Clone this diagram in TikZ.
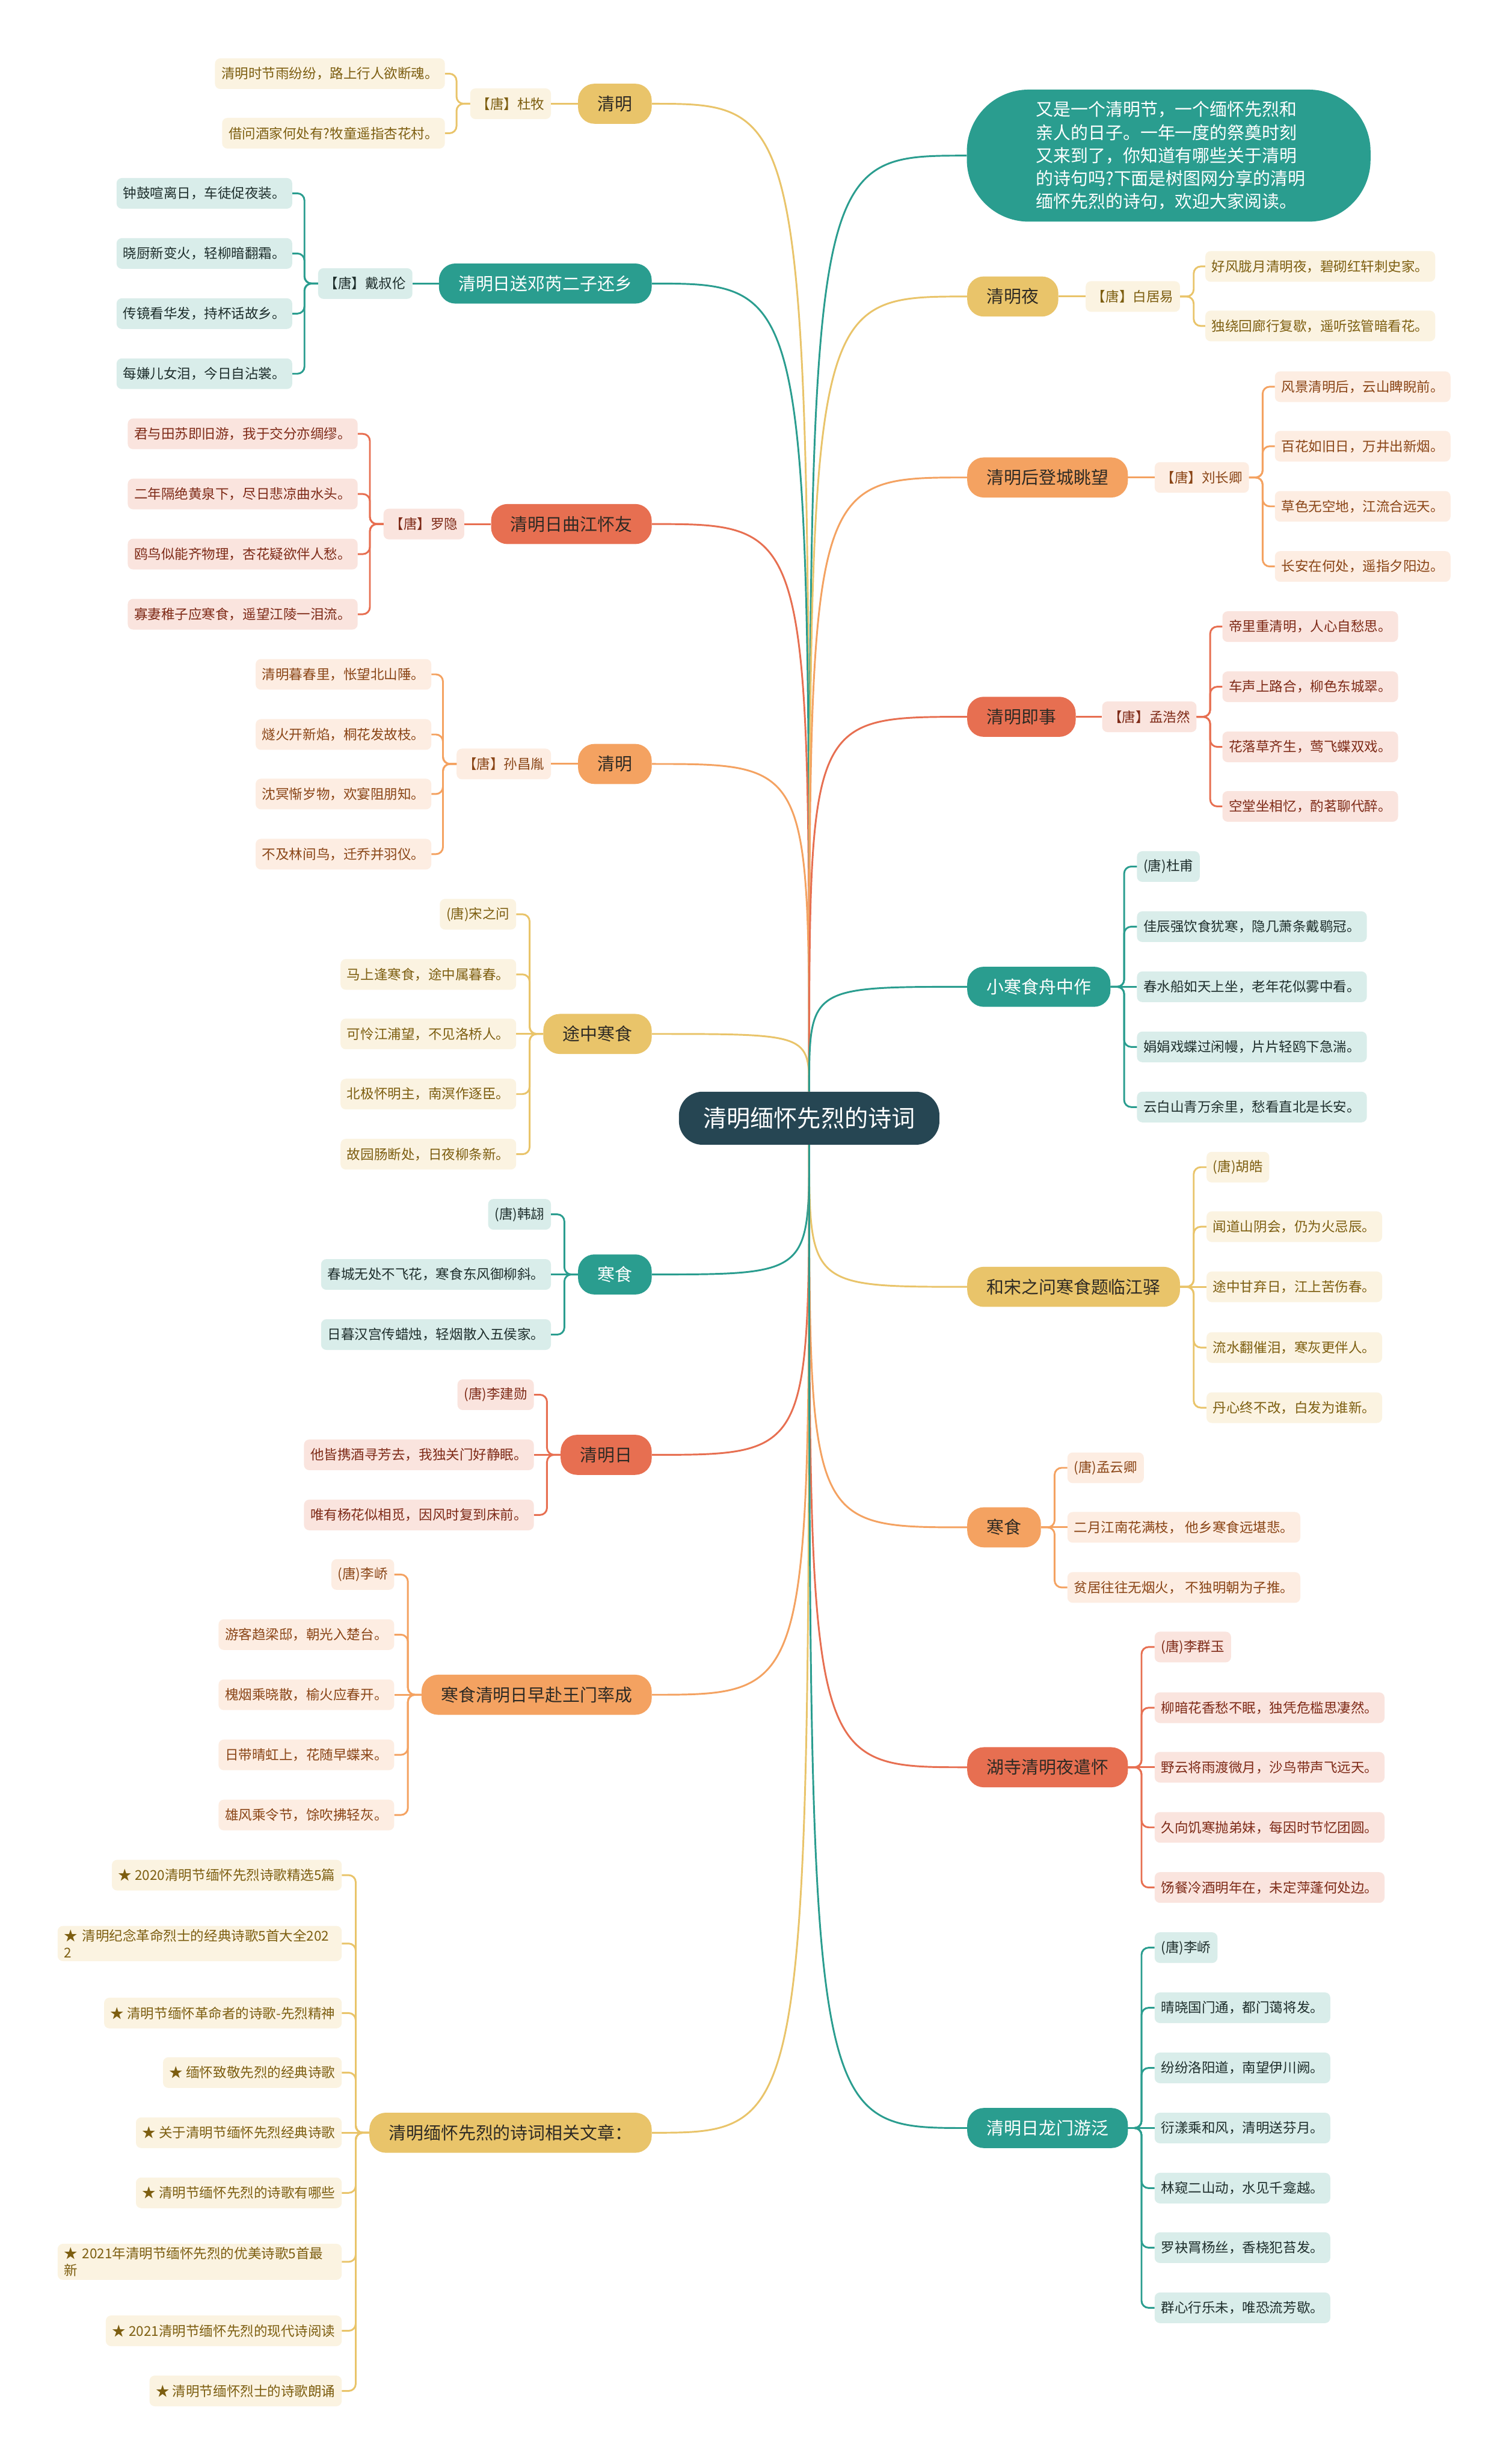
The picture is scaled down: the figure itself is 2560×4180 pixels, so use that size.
\documentclass[tikz,border=0pt]{standalone}
\usepackage{fontspec}
\setmainfont{Noto Sans CJK SC}
\definecolor{rootc}{HTML}{264653}
\definecolor{tealc}{HTML}{2A9D8F}
\definecolor{yelc}{HTML}{E9C46A}
\definecolor{orac}{HTML}{F4A261}
\definecolor{redc}{HTML}{E76F51}
\definecolor{tealf}{HTML}{D9EDEA}
\definecolor{yelf}{HTML}{FBF3E1}
\definecolor{oraf}{HTML}{FDEDE2}
\definecolor{redf}{HTML}{FAE4DE}
\definecolor{yelt}{HTML}{7D5E10}
\definecolor{orat}{HTML}{8A4516}
\definecolor{redt}{HTML}{7E2A17}
\definecolor{tealt}{HTML}{1E2E2C}
\definecolor{darkt}{HTML}{2E2A24}
\begin{document}
\begin{tikzpicture}[x=1pt,y=-1pt,
  rootbox/.style={fill=rootc,text=white,rounded corners=40,minimum height=90,inner xsep=41,font=\fontsize{40}{48}\selectfont},
  mainbox/.style={rounded corners=28,minimum height=68,inner xsep=33,font=\fontsize{29.5}{35}\selectfont},
  ymain/.style={mainbox,fill=yelc,text=darkt},
  omain/.style={mainbox,fill=orac,text=darkt},
  rmain/.style={mainbox,fill=redc,text=darkt},
  tmain/.style={mainbox,fill=tealc,text=white},
  leafbox/.style={rounded corners=9,minimum height=52,inner xsep=11,inner ysep=6,font=\fontsize{23}{28}\selectfont},
  yleaf/.style={leafbox,fill=yelf,text=yelt},
  oleaf/.style={leafbox,fill=oraf,text=orat},
  rleaf/.style={leafbox,fill=redf,text=redt},
  tleaf/.style={leafbox,fill=tealf,text=tealt},
  yline/.style={draw=yelc,line width=3pt,rounded corners=12},
  oline/.style={draw=orac,line width=3pt,rounded corners=12},
  rline/.style={draw=redc,line width=3pt,rounded corners=12},
  tline/.style={draw=tealc,line width=3pt,rounded corners=12}]
\fill[white] (0,0) rectangle (2560,4180);
\useasboundingbox (0,0) rectangle (2560,4180);

\node[rootbox] (root) at (1373,1897) {清明缅怀先烈的诗词};
\node[tmain,minimum width=685,minimum height=224,rounded corners=105,text width=450,align=left,font=\fontsize{29.5}{39}\selectfont] (intro) at (1983,264)
  {又是一个清明节，一个缅怀先烈和\\亲人的日子。一年一度的祭奠时刻\\又来到了，你知道有哪些关于清明\\的诗句吗?下面是树图网分享的清明\\缅怀先烈的诗句，欢迎大家阅读。};

% left half
\begin{scope}[every node/.append style={anchor=east}]
  \node[ymain] (qm1) at (1106,176) {清明}; \node[yleaf] (a1) at (935,176) {【唐】杜牧};
  \node[yleaf] (l1a) at (755,125) {清明时节雨纷纷，路上行人欲断魂。};
  \node[yleaf] (l1b) at (755,226) {借问酒家何处有?牧童遥指杏花村。};

  \node[tmain] (sx) at (1106,481) {清明日送邓芮二子还乡}; \node[tleaf] (a2) at (700,481) {【唐】戴叔伦};
  \node[tleaf] (l2a) at (496,328) {钟鼓喧离日，车徒促夜装。};
  \node[tleaf] (l2b) at (496,430) {晓厨新变火，轻柳暗翻霜。};
  \node[tleaf] (l2c) at (496,532) {传镜看华发，持杯话故乡。};
  \node[tleaf] (l2d) at (496,634) {每嫌儿女泪，今日自沾裳。};

  \node[rmain] (qj) at (1106,889) {清明日曲江怀友}; \node[rleaf] (a3) at (788,889) {【唐】罗隐};
  \node[rleaf] (l3a) at (607,736) {君与田苏即旧游，我于交分亦绸缪。};
  \node[rleaf] (l3b) at (607,838) {二年隔绝黄泉下，尽日悲凉曲水头。};
  \node[rleaf] (l3c) at (607,940) {鸥鸟似能齐物理，杏花疑欲伴人愁。};
  \node[rleaf] (l3d) at (607,1042) {寡妻稚子应寒食，遥望江陵一泪流。};

  \node[omain] (qm2) at (1106,1296) {清明}; \node[oleaf] (a4) at (935,1296) {【唐】孙昌胤};
  \node[oleaf] (l4a) at (732,1144) {清明暮春里，怅望北山陲。};
  \node[oleaf] (l4b) at (732,1246) {燧火开新焰，桐花发故枝。};
  \node[oleaf] (l4c) at (732,1347) {沈冥惭岁物，欢宴阻朋知。};
  \node[oleaf] (l4d) at (732,1449) {不及林间鸟，迁乔并羽仪。};

  \node[ymain] (tz) at (1106,1754) {途中寒食};
  \node[yleaf] (l5a) at (876,1551) {(唐)宋之问};
  \node[yleaf] (l5b) at (876,1653) {马上逢寒食，途中属暮春。};
  \node[yleaf] (l5c) at (876,1754) {可怜江浦望，不见洛桥人。};
  \node[yleaf] (l5d) at (876,1856) {北极怀明主，南溟作逐臣。};
  \node[yleaf] (l5e) at (876,1958) {故园肠断处，日夜柳条新。};

  \node[tmain] (hs1) at (1106,2162) {寒食};
  \node[tleaf] (l6a) at (935,2060) {(唐)韩翃};
  \node[tleaf] (l6b) at (935,2162) {春城无处不飞花，寒食东风御柳斜。};
  \node[tleaf] (l6c) at (935,2264) {日暮汉宫传蜡烛，轻烟散入五侯家。};

  \node[rmain] (qr) at (1106,2468) {清明日};
  \node[rleaf] (l7a) at (906,2366) {(唐)李建勋};
  \node[rleaf] (l7b) at (906,2468) {他皆携酒寻芳去，我独关门好静眠。};
  \node[rleaf] (l7c) at (906,2570) {唯有杨花似相觅，因风时复到床前。};

  \node[omain] (hsq) at (1106,2875) {寒食清明日早赴王门率成};
  \node[oleaf] (l8a) at (669,2671) {(唐)李峤};
  \node[oleaf] (l8b) at (669,2773) {游客趋梁邸，朝光入楚台。};
  \node[oleaf] (l8c) at (669,2875) {槐烟乘晓散，榆火应春开。};
  \node[oleaf] (l8d) at (669,2977) {日带晴虹上，花随早蝶来。};
  \node[oleaf] (l8e) at (669,3079) {雄风乘令节，馀吹拂轻灰。};

  \node[ymain] (wz) at (1106,3618) {清明缅怀先烈的诗词相关文章：};
  \node[yleaf] (l9a) at (580,3181) {★ 2020清明节缅怀先烈诗歌精选5篇};
  \node[yleaf,text width=460,align=left] (l9b) at (580,3297) {★ 清明纪念革命烈士的经典诗歌5首大全202\\2};
  \node[yleaf] (l9c) at (580,3415) {★ 清明节缅怀革命者的诗歌-先烈精神};
  \node[yleaf] (l9d) at (580,3516) {★ 缅怀致敬先烈的经典诗歌};
  \node[yleaf] (l9e) at (580,3618) {★ 关于清明节缅怀先烈经典诗歌};
  \node[yleaf] (l9f) at (580,3720) {★ 清明节缅怀先烈的诗歌有哪些};
  \node[yleaf,text width=460,align=left] (l9g) at (580,3837) {★ 2021年清明节缅怀先烈的优美诗歌5首最\\新};
  \node[yleaf] (l9h) at (580,3954) {★ 2021清明节缅怀先烈的现代诗阅读};
  \node[yleaf] (l9i) at (580,4056) {★ 清明节缅怀烈士的诗歌朗诵};
\end{scope}

% right half
\begin{scope}[every node/.append style={anchor=west}]
  \node[ymain] (qy) at (1641,503) {清明夜}; \node[yleaf] (a10) at (1842,503) {【唐】白居易};
  \node[yleaf] (l10a) at (2045,452) {好风胧月清明夜，碧砌红轩刺史家。};
  \node[yleaf] (l10b) at (2045,553) {独绕回廊行复歇，遥听弦管暗看花。};

  \node[omain] (dc) at (1641,810) {清明后登城眺望}; \node[oleaf] (a11) at (1959,810) {【唐】刘长卿};
  \node[oleaf] (l11a) at (2163,656) {风景清明后，云山睥睨前。};
  \node[oleaf] (l11b) at (2163,757) {百花如旧日，万井出新烟。};
  \node[oleaf] (l11c) at (2163,859) {草色无空地，江流合远天。};
  \node[oleaf] (l11d) at (2163,961) {长安在何处，遥指夕阳边。};

  \node[rmain] (js) at (1641,1216) {清明即事}; \node[rleaf] (a12) at (1870,1216) {【唐】孟浩然};
  \node[rleaf] (l12a) at (2074,1063) {帝里重清明，人心自愁思。};
  \node[rleaf] (l12b) at (2074,1165) {车声上路合，柳色东城翠。};
  \node[rleaf] (l12c) at (2074,1267) {花落草齐生，莺飞蝶双戏。};
  \node[rleaf] (l12d) at (2074,1368) {空堂坐相忆，酌茗聊代醉。};

  \node[tmain] (xh) at (1641,1674) {小寒食舟中作};
  \node[tleaf] (l13a) at (1929,1470) {(唐)杜甫};
  \node[tleaf] (l13b) at (1929,1572) {佳辰强饮食犹寒，隐几萧条戴鹖冠。};
  \node[tleaf] (l13c) at (1929,1674) {春水船如天上坐，老年花似雾中看。};
  \node[tleaf] (l13d) at (1929,1776) {娟娟戏蝶过闲幔，片片轻鸥下急湍。};
  \node[tleaf] (l13e) at (1929,1878) {云白山青万余里，愁看直北是长安。};

  \node[ymain] (hz) at (1641,2183) {和宋之问寒食题临江驿};
  \node[yleaf] (l14a) at (2047,1980) {(唐)胡皓};
  \node[yleaf] (l14b) at (2047,2081) {闻道山阴会，仍为火忌辰。};
  \node[yleaf] (l14c) at (2047,2183) {途中甘弃日，江上苦伤春。};
  \node[yleaf] (l14d) at (2047,2286) {流水翻催泪，寒灰更伴人。};
  \node[yleaf] (l14e) at (2047,2388) {丹心终不改，白发为谁新。};

  \node[omain] (hs2) at (1641,2591) {寒食};
  \node[oleaf] (l15a) at (1811,2490) {(唐)孟云卿};
  \node[oleaf] (l15b) at (1811,2591) {二月江南花满枝， 他乡寒食远堪悲。};
  \node[oleaf] (l15c) at (1811,2693) {贫居往往无烟火， 不独明朝为子推。};

  \node[rmain] (hu) at (1641,2998) {湖寺清明夜遣怀};
  \node[rleaf] (l16a) at (1959,2794) {(唐)李群玉};
  \node[rleaf] (l16b) at (1959,2897) {柳暗花香愁不眠，独凭危槛思凄然。};
  \node[rleaf] (l16c) at (1959,2998) {野云将雨渡微月，沙鸟带声飞远天。};
  \node[rleaf] (l16d) at (1959,3100) {久向饥寒抛弟妹，每因时节忆团圆。};
  \node[rleaf] (l16e) at (1959,3202) {饧餐冷酒明年在，未定萍蓬何处边。};

  \node[tmain] (lm) at (1641,3610) {清明日龙门游泛};
  \node[tleaf] (l17a) at (1959,3304) {(唐)李峤};
  \node[tleaf] (l17b) at (1959,3406) {晴晓国门通，都门蔼将发。};
  \node[tleaf] (l17c) at (1959,3508) {纷纷洛阳道，南望伊川阙。};
  \node[tleaf] (l17d) at (1959,3610) {衍漾乘和风，清明送芬月。};
  \node[tleaf] (l17e) at (1959,3712) {林窥二山动，水见千龛越。};
  \node[tleaf] (l17f) at (1959,3813) {罗袂罥杨丝，香桡犯苔发。};
  \node[tleaf] (l17g) at (1959,3915) {群心行乐未，唯恐流芳歇。};
\end{scope}

% branches out of the centre
\draw[yline] (root.north) .. controls (root.north |- qm1.east) .. (qm1.east);
\draw[tline] (root.north) .. controls (root.north |- sx.east) .. (sx.east);
\draw[rline] (root.north) .. controls (root.north |- qj.east) .. (qj.east);
\draw[oline] (root.north) .. controls (root.north |- qm2.east) .. (qm2.east);
\draw[yline] (root.north) .. controls (root.north |- tz.east) .. (tz.east);
\draw[tline] (root.south) .. controls (root.south |- hs1.east) .. (hs1.east);
\draw[rline] (root.south) .. controls (root.south |- qr.east) .. (qr.east);
\draw[oline] (root.south) .. controls (root.south |- hsq.east) .. (hsq.east);
\draw[yline] (root.south) .. controls (root.south |- wz.east) .. (wz.east);
\draw[tline] (root.north) .. controls (root.north |- intro.west) .. (intro.west);
\draw[yline] (root.north) .. controls (root.north |- qy.west) .. (qy.west);
\draw[oline] (root.north) .. controls (root.north |- dc.west) .. (dc.west);
\draw[rline] (root.north) .. controls (root.north |- js.west) .. (js.west);
\draw[tline] (root.north) .. controls (root.north |- xh.west) .. (xh.west);
\draw[yline] (root.south) .. controls (root.south |- hz.west) .. (hz.west);
\draw[oline] (root.south) .. controls (root.south |- hs2.west) .. (hs2.west);
\draw[rline] (root.south) .. controls (root.south |- hu.west) .. (hu.west);
\draw[tline] (root.south) .. controls (root.south |- lm.west) .. (lm.west);

% left brackets
\draw[yline] (qm1.west) -- (a1.east);
\draw[yline] (a1.west) -- ++(-23,0) |- (l1a.east); \draw[yline] (a1.west) -- ++(-23,0) |- (l1b.east);
\draw[tline] (sx.west) -- (a2.east);
\draw[tline] (a2.west) -- ++(-23,0) |- (l2a.east); \draw[tline] (a2.west) -- ++(-23,0) |- (l2b.east);
\draw[tline] (a2.west) -- ++(-23,0) |- (l2c.east); \draw[tline] (a2.west) -- ++(-23,0) |- (l2d.east);
\draw[rline] (qj.west) -- (a3.east);
\draw[rline] (a3.west) -- ++(-23,0) |- (l3a.east); \draw[rline] (a3.west) -- ++(-23,0) |- (l3b.east);
\draw[rline] (a3.west) -- ++(-23,0) |- (l3c.east); \draw[rline] (a3.west) -- ++(-23,0) |- (l3d.east);
\draw[oline] (qm2.west) -- (a4.east);
\draw[oline] (a4.west) -- ++(-23,0) |- (l4a.east); \draw[oline] (a4.west) -- ++(-23,0) |- (l4b.east);
\draw[oline] (a4.west) -- ++(-23,0) |- (l4c.east); \draw[oline] (a4.west) -- ++(-23,0) |- (l4d.east);
\draw[yline] (tz.west) -- ++(-23,0) |- (l5a.east); \draw[yline] (tz.west) -- ++(-23,0) |- (l5b.east);
\draw[yline] (tz.west) -- (l5c.east);
\draw[yline] (tz.west) -- ++(-23,0) |- (l5d.east); \draw[yline] (tz.west) -- ++(-23,0) |- (l5e.east);
\draw[tline] (hs1.west) -- ++(-23,0) |- (l6a.east); \draw[tline] (hs1.west) -- (l6b.east);
\draw[tline] (hs1.west) -- ++(-23,0) |- (l6c.east);
\draw[rline] (qr.west) -- ++(-23,0) |- (l7a.east); \draw[rline] (qr.west) -- (l7b.east);
\draw[rline] (qr.west) -- ++(-23,0) |- (l7c.east);
\draw[oline] (hsq.west) -- ++(-23,0) |- (l8a.east); \draw[oline] (hsq.west) -- ++(-23,0) |- (l8b.east);
\draw[oline] (hsq.west) -- (l8c.east);
\draw[oline] (hsq.west) -- ++(-23,0) |- (l8d.east); \draw[oline] (hsq.west) -- ++(-23,0) |- (l8e.east);
\draw[yline] (wz.west) -- ++(-23,0) |- (l9a.east); \draw[yline] (wz.west) -- ++(-23,0) |- (l9b.east);
\draw[yline] (wz.west) -- ++(-23,0) |- (l9c.east); \draw[yline] (wz.west) -- ++(-23,0) |- (l9d.east);
\draw[yline] (wz.west) -- (l9e.east);
\draw[yline] (wz.west) -- ++(-23,0) |- (l9f.east); \draw[yline] (wz.west) -- ++(-23,0) |- (l9g.east);
\draw[yline] (wz.west) -- ++(-23,0) |- (l9h.east); \draw[yline] (wz.west) -- ++(-23,0) |- (l9i.east);

% right brackets
\draw[yline] (qy.east) -- (a10.west);
\draw[yline] (a10.east) -- ++(23,0) |- (l10a.west); \draw[yline] (a10.east) -- ++(23,0) |- (l10b.west);
\draw[oline] (dc.east) -- (a11.west);
\draw[oline] (a11.east) -- ++(23,0) |- (l11a.west); \draw[oline] (a11.east) -- ++(23,0) |- (l11b.west);
\draw[oline] (a11.east) -- ++(23,0) |- (l11c.west); \draw[oline] (a11.east) -- ++(23,0) |- (l11d.west);
\draw[rline] (js.east) -- (a12.west);
\draw[rline] (a12.east) -- ++(23,0) |- (l12a.west); \draw[rline] (a12.east) -- ++(23,0) |- (l12b.west);
\draw[rline] (a12.east) -- ++(23,0) |- (l12c.west); \draw[rline] (a12.east) -- ++(23,0) |- (l12d.west);
\draw[tline] (xh.east) -- ++(23,0) |- (l13a.west); \draw[tline] (xh.east) -- ++(23,0) |- (l13b.west);
\draw[tline] (xh.east) -- (l13c.west);
\draw[tline] (xh.east) -- ++(23,0) |- (l13d.west); \draw[tline] (xh.east) -- ++(23,0) |- (l13e.west);
\draw[yline] (hz.east) -- ++(23,0) |- (l14a.west); \draw[yline] (hz.east) -- ++(23,0) |- (l14b.west);
\draw[yline] (hz.east) -- (l14c.west);
\draw[yline] (hz.east) -- ++(23,0) |- (l14d.west); \draw[yline] (hz.east) -- ++(23,0) |- (l14e.west);
\draw[oline] (hs2.east) -- ++(23,0) |- (l15a.west); \draw[oline] (hs2.east) -- (l15b.west);
\draw[oline] (hs2.east) -- ++(23,0) |- (l15c.west);
\draw[rline] (hu.east) -- ++(23,0) |- (l16a.west); \draw[rline] (hu.east) -- ++(23,0) |- (l16b.west);
\draw[rline] (hu.east) -- (l16c.west);
\draw[rline] (hu.east) -- ++(23,0) |- (l16d.west); \draw[rline] (hu.east) -- ++(23,0) |- (l16e.west);
\draw[tline] (lm.east) -- ++(23,0) |- (l17a.west); \draw[tline] (lm.east) -- ++(23,0) |- (l17b.west);
\draw[tline] (lm.east) -- ++(23,0) |- (l17c.west); \draw[tline] (lm.east) -- (l17d.west);
\draw[tline] (lm.east) -- ++(23,0) |- (l17e.west); \draw[tline] (lm.east) -- ++(23,0) |- (l17f.west);
\draw[tline] (lm.east) -- ++(23,0) |- (l17g.west);
\end{tikzpicture}
\end{document}
